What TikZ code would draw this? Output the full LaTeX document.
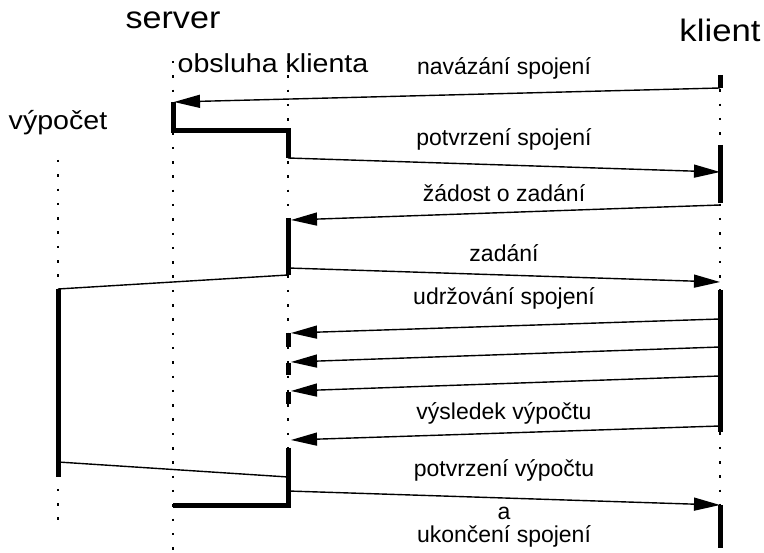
\documentclass[tikz,border=0pt]{standalone}
\usepackage{fontspec}
\setmainfont{Liberation Sans}
\usetikzlibrary{arrows.meta}
\begin{document}
\begin{tikzpicture}[x=1pt,y=-1pt,
	life/.style={dash pattern=on 2.5pt off 11.8pt, line width=1.3pt},
	act/.style={line width=5pt},
	msg/.style={line width=1.4pt, -{Triangle[length=26pt,width=13pt]}},
	link/.style={line width=1.4pt},
	lbl/.style={font=\fontsize{23}{27}\selectfont, anchor=base, inner sep=0pt},
	head/.style={anchor=base, inner sep=0pt, transform shape}]
	\useasboundingbox (0,0) rectangle (764,553);
	% lifeline heads
	\node (server) at (173, 29)	[head, xscale=1.1, font=\fontsize{31}{34}\selectfont]	{server};
	\node (klient) at (720, 42)	[head, xscale=1.12, font=\fontsize{31}{34}\selectfont]	{klient};
	\node (obsluha) at (273, 73)	[head, xscale=1.1, font=\fontsize{26}{30}\selectfont]	{obsluha klienta};
	\node (vypocet) at (58, 130)	[head, xscale=1.1, font=\fontsize{26}{30}\selectfont]	{výpočet};
	% lifelines
	\draw[life] (58, 160) -- (58, 525);
	\draw[life] (173, 61) -- (173, 553);
	\draw[life] (288, 61) -- (288, 506);
	\draw[life] (720, 75) -- (720, 548);
	% activations
	\draw[act] (173, 102) -- (173, 131) -- (288, 131) -- (288, 158);
	\draw[act] (288, 218) -- (288, 275);
	\draw[act] (288, 333) -- (288, 347);
	\draw[act] (288, 363) -- (288, 375);
	\draw[act] (288, 392) -- (288, 404);
	\draw[act] (288, 448) -- (288, 506) -- (173, 506);
	\draw[act] (58, 289) -- (58, 477);
	\draw[act] (720, 75) -- (720, 88);
	\draw[act] (720, 145) -- (720, 203);
	\draw[act] (720, 290) -- (720, 432);
	\draw[act] (720, 505) -- (720, 548);
	% message ends
	\coordinate (k1) at (720, 88);	\coordinate (s1) at (174, 102);
	\coordinate (o2) at (288, 158);	\coordinate (k2) at (720, 172);
	\coordinate (k3) at (720, 205);	\coordinate (o3) at (291, 220);
	\coordinate (o4) at (288, 268);	\coordinate (k4) at (720, 282);
	\coordinate (o5) at (288, 275);	\coordinate (v5) at (58, 289);
	\coordinate (k6) at (720, 319);	\coordinate (o6) at (291, 333);
	\coordinate (k7) at (720, 347);	\coordinate (o7) at (291, 362);
	\coordinate (k8) at (720, 376);	\coordinate (o8) at (291, 391);
	\coordinate (k9) at (720, 426);	\coordinate (o9) at (291, 440);
	\coordinate (v10) at (58, 462);	\coordinate (o10) at (288, 477);
	\coordinate (o11) at (288, 491);	\coordinate (k11) at (720, 505);
	% messages
	\draw[msg] (k1) -- (s1);
	\draw[msg] (o2) -- (k2);
	\draw[msg] (k3) -- (o3);
	\draw[msg] (o4) -- (k4);
	\draw[link] (o5) -- (v5);
	\draw[msg] (k6) -- (o6);
	\draw[msg] (k7) -- (o7);
	\draw[msg] (k8) -- (o8);
	\draw[msg] (k9) -- (o9);
	\draw[link] (v10) -- (o10);
	\draw[msg] (o11) -- (k11);
	% labels
	\node (navazani) at (504, 75)	[lbl]	{navázání spojení};
	\node (potvrzeni) at (504, 146)	[lbl]	{potvrzení spojení};
	\node (zadost) at (504, 202)	[lbl]	{žádost o zadání};
	\node (zadani) at (504, 262)	[lbl]	{zadání};
	\node (udrzovani) at (504, 305)	[lbl]	{udržování spojení};
	\node (vysledek) at (504, 420)	[lbl]	{výsledek výpočtu};
	\node (potvrzenivyp) at (504, 477)	[lbl]	{potvrzení výpočtu};
	\node (a) at (504, 520)	[lbl]	{a};
	\node (ukonceni) at (504, 543)	[lbl]	{ukončení spojení};
\end{tikzpicture}
\end{document}
